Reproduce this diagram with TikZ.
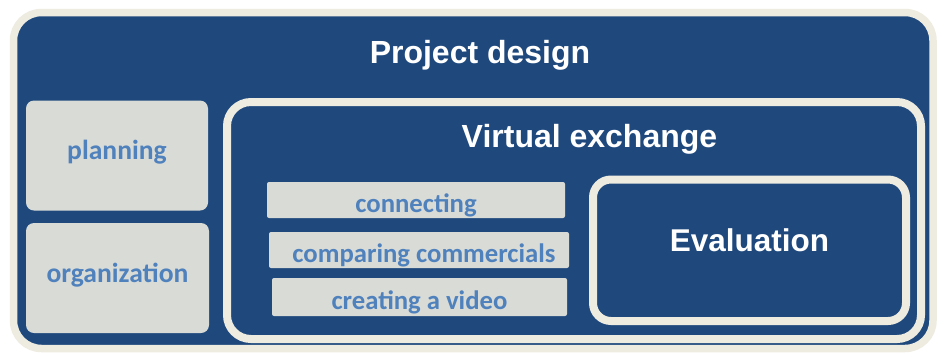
\documentclass[tikz,border=0pt]{standalone}
\usepackage{fontspec}
\setmainfont{Liberation Sans}
\newfontfamily\labelfont{Carlito}
\usetikzlibrary{shadows}
\definecolor{navy}{RGB}{31,73,125}
\definecolor{cream}{RGB}{238,236,225}
\definecolor{lightgrey}{RGB}{217,219,214}
\definecolor{accentblue}{RGB}{79,129,189}
\tikzset{
  frame/.style={draw=cream, fill=navy, line width=#1, inner sep=0pt,
    drop shadow={shadow xshift=1.5pt, shadow yshift=-2pt, opacity=0.3, fill=black}},
  part/.style={fill=lightgrey, rounded corners=8pt, inner sep=0pt,
    text height=8pt, text depth=0pt,
    text=accentblue, font=\labelfont\bfseries\fontsize{27.6}{32}\selectfont},
  activity/.style={fill=lightgrey, rounded corners=2pt, inner sep=0pt,
    text height=25pt, text depth=0pt,
    text=accentblue, font=\labelfont\bfseries\fontsize{26.7}{31}\selectfont},
  title/.style={anchor=base, text=white, font=\bfseries\fontsize{32}{37}\selectfont}
}
\begin{document}
\begin{tikzpicture}[x=1pt,y=-1pt]
\useasboundingbox (0,0) rectangle (939,354);
\fill[white] (0,0) rectangle (939,354);
% outer frame
\node[frame=7.5pt, rounded corners=28pt, minimum width=919.5pt, minimum height=336pt] (design) at (473.25,180.5) {};
\node[title] (designtitle) at (480,63.3) {Project design};
% left column
\node[part, minimum width=182pt, minimum height=110pt] (planning) at (117,155.5) {planning};
\node[part, minimum width=183pt, minimum height=110pt] (organization) at (117.5,278) {organization};
% virtual exchange
\node[frame=8pt, rounded corners=24pt, minimum width=694pt, minimum height=237pt] (exchange) at (574,220.5) {};
\node[title] (exchangetitle) at (589.5,147.3) {Virtual exchange};
\node[activity, minimum width=298pt, minimum height=36pt] (connecting) at (416,200) {connecting};
\node[activity, minimum width=300pt, minimum height=36pt] (comparing) at (419,250) {\hspace{10pt}comparing commercials};
\node[activity, minimum width=295pt, minimum height=38pt] (creating) at (419.5,297) {creating a video};
% evaluation
\node[frame=8pt, rounded corners=18pt, minimum width=313pt, minimum height=141.5pt] (evaluation) at (749.5,250.25) {};
\node[title, font=\bfseries\fontsize{31.5}{36}\selectfont] (evaluationtitle) at (749.5,251) {Evaluation};
\end{tikzpicture}
\end{document}
